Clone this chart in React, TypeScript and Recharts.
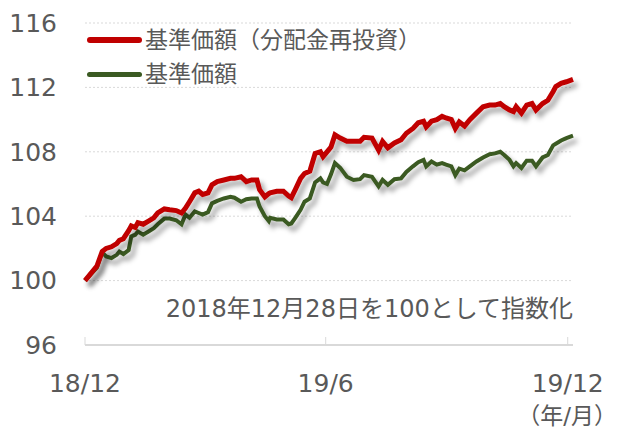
import { LineChart, Line, XAxis, YAxis, CartesianGrid } from "recharts";

// days since 2018-12-28
const days = [
  0, 9, 13, 16, 20, 24, 26, 29, 33, 35, 38, 40, 44, 48, 52, 55, 60, 64, 69, 73,
  76, 79, 83, 86, 89, 93, 96, 100, 105, 110, 113, 118, 122, 126, 130, 132, 136, 139, 140, 145,
  150, 154, 156, 159, 163, 166, 170, 174, 178, 180, 183, 186, 189, 193, 198, 203, 208, 211, 217, 222,
  225, 229, 234, 239, 243, 248, 252, 256, 258, 262, 266, 270, 273, 277, 280, 283, 287, 291, 296, 301,
  306, 310, 314, 317, 321, 324, 326, 330, 334, 338, 341, 346, 350, 354, 356, 360, 364, 369,
];

const reinvested = [
  100, 100.9, 101.8, 102.0, 102.1, 102.3, 102.5, 102.6, 103.1, 103.4, 103.3, 103.6, 103.5, 103.7, 103.9, 104.2, 104.45, 104.4, 104.35, 104.2,
  104.5, 104.9, 105.45, 105.55, 105.35, 105.45, 105.95, 106.15, 106.25, 106.35, 106.35, 106.45, 106.15, 106.25, 106.25, 105.65, 105.2, 105.4, 105.45, 105.55,
  105.55, 105.25, 105.15, 105.65, 106.35, 106.65, 106.8, 107.9, 108.0, 107.7, 108.0, 108.3, 109.05, 108.85, 108.65, 108.65, 108.65, 108.9, 108.85, 108.1,
  108.65, 108.25, 108.55, 108.75, 109.15, 109.45, 109.8, 109.9, 109.55, 109.9, 110.0, 110.2, 110.1, 110.0, 109.45, 109.85, 109.6, 110.0, 110.4, 110.8,
  110.9, 110.9, 111.0, 110.8, 110.6, 110.5, 110.8, 110.4, 110.9, 111.0, 110.6, 111.0, 111.2, 111.75, 112.05, 112.25, 112.35, 112.5,
];

const nav = [
  100, 100.8, 101.75, 101.5, 101.4, 101.6, 101.8, 101.65, 101.9, 102.75, 102.85, 103.05, 102.85, 103.05, 103.25, 103.5, 103.85, 103.85, 103.75, 103.5,
  104.1, 103.9, 104.3, 104.2, 104.1, 104.25, 104.8, 104.95, 105.1, 105.2, 105.15, 104.9, 105.05, 105.1, 105.1, 104.6, 104.0, 103.7, 103.9, 103.8,
  103.8, 103.5, 103.55, 103.9, 104.4, 104.9, 105.1, 106.1, 106.35, 106.1, 106.0, 106.6, 107.3, 107.0, 106.45, 106.25, 106.3, 106.55, 106.45, 105.85,
  106.25, 105.95, 106.3, 106.35, 106.75, 107.1, 107.35, 107.5, 107.1, 107.4, 107.2, 107.3, 107.2, 107.1, 106.55, 106.95, 106.85, 107.1, 107.4, 107.65,
  107.85, 107.9, 108.0, 107.8, 107.5, 107.1, 107.3, 107.0, 107.45, 107.45, 107.1, 107.65, 107.8, 108.4, 108.5, 108.7, 108.85, 109.0,
];

const xTicks = [0, 182, 365];
const xTickLabels = ["18/12", "19/6", "19/12"];
const yTicks = [96, 100, 104, 108, 112, 116];

const seriesNames = ["基準価額（分配金再投資）", "基準価額"];
const colors = ["#c00000", "#3b5a22"];

const data = days.map((d, i) => ({ day: d, reinvested: reinvested[i], nav: nav[i] }));

const font = '"DejaVu Sans", "Noto Sans CJK JP", sans-serif';
const textColor = "#595959";

function XTick(props: any) {
  const { x, y, payload } = props;
  const idx = xTicks.indexOf(payload.value);
  return (
    <g>
      <line x1={x} x2={x} y1={y - 8} y2={y} stroke="#d9d9d9" strokeWidth={1} />
      <text x={x} y={y + 47} textAnchor="middle" fill={textColor} fontSize={25} fontFamily={font}>
        {xTickLabels[idx]}
      </text>
    </g>
  );
}

export default function App() {
  return (
    <div style={{ position: "absolute", left: 0, top: 0, width: 619, height: 430, background: "#fff" }}>
      <LineChart
        width={619}
        height={430}
        data={data}
        margin={{ top: 23, right: 46, bottom: 0, left: 0 }}
      >
        <defs>
          <filter id="lineShadow" x="-10%" y="-10%" width="130%" height="140%">
            <feDropShadow dx="4" dy="5" stdDeviation="2.5" floodColor="#000" floodOpacity="0.35" />
          </filter>
        </defs>
        <CartesianGrid
          vertical={false}
          stroke="#d9d9d9"
          strokeDasharray="2 2"
          horizontalValues={[100, 104, 108, 112, 116]}
        />
        <XAxis
          dataKey="day"
          type="number"
          domain={[0, 369]}
          ticks={xTicks}
          height={85}
          tickLine={false}
          tickSize={0}
          tickMargin={0}
          axisLine={{ stroke: "#d9d9d9", strokeWidth: 2 }}
          tick={<XTick />}
          interval={0}
        />
        <YAxis
          domain={[96, 116]}
          ticks={yTicks}
          width={85}
          axisLine={false}
          tickLine={false}
          tickMargin={22}
          tick={{ fill: textColor, fontSize: 25, fontFamily: font }}
          interval={0}
        />
        <Line
          type="linear"
          dataKey="nav"
          name={seriesNames[1]}
          stroke={colors[1]}
          strokeWidth={4}
          dot={false}
          filter="url(#lineShadow)"
          isAnimationActive={false}
        />
        <Line
          type="linear"
          dataKey="reinvested"
          name={seriesNames[0]}
          stroke={colors[0]}
          strokeWidth={5}
          dot={false}
          filter="url(#lineShadow)"
          isAnimationActive={false}
        />
      </LineChart>
      <div
        style={{
          position: "absolute",
          left: 87,
          top: 23,
          fontFamily: font,
          fontSize: 23,
          color: textColor,
          lineHeight: "34px",
          whiteSpace: "nowrap",
        }}
      >
        {seriesNames.map((n, i) => (
          <div key={n} style={{ display: "flex", alignItems: "center", height: 34 }}>
            <span
              style={{
                display: "inline-block",
                width: 55,
                height: i === 0 ? 6 : 5,
                borderRadius: 3,
                background: colors[i],
                marginRight: 3,
              }}
            />
            {n}
          </div>
        ))}
      </div>
      <div
        style={{
          position: "absolute",
          right: 46,
          top: 297,
          fontFamily: font,
          fontSize: 24,
          lineHeight: "24px",
          color: textColor,
          whiteSpace: "nowrap",
        }}
      >
        2018年12月28日を100として指数化
      </div>
      <div
        style={{
          position: "absolute",
          right: 2,
          top: 404,
          fontFamily: font,
          fontSize: 23,
          lineHeight: "24px",
          color: textColor,
          whiteSpace: "nowrap",
        }}
      >
        （年/月）
      </div>
    </div>
  );
}
